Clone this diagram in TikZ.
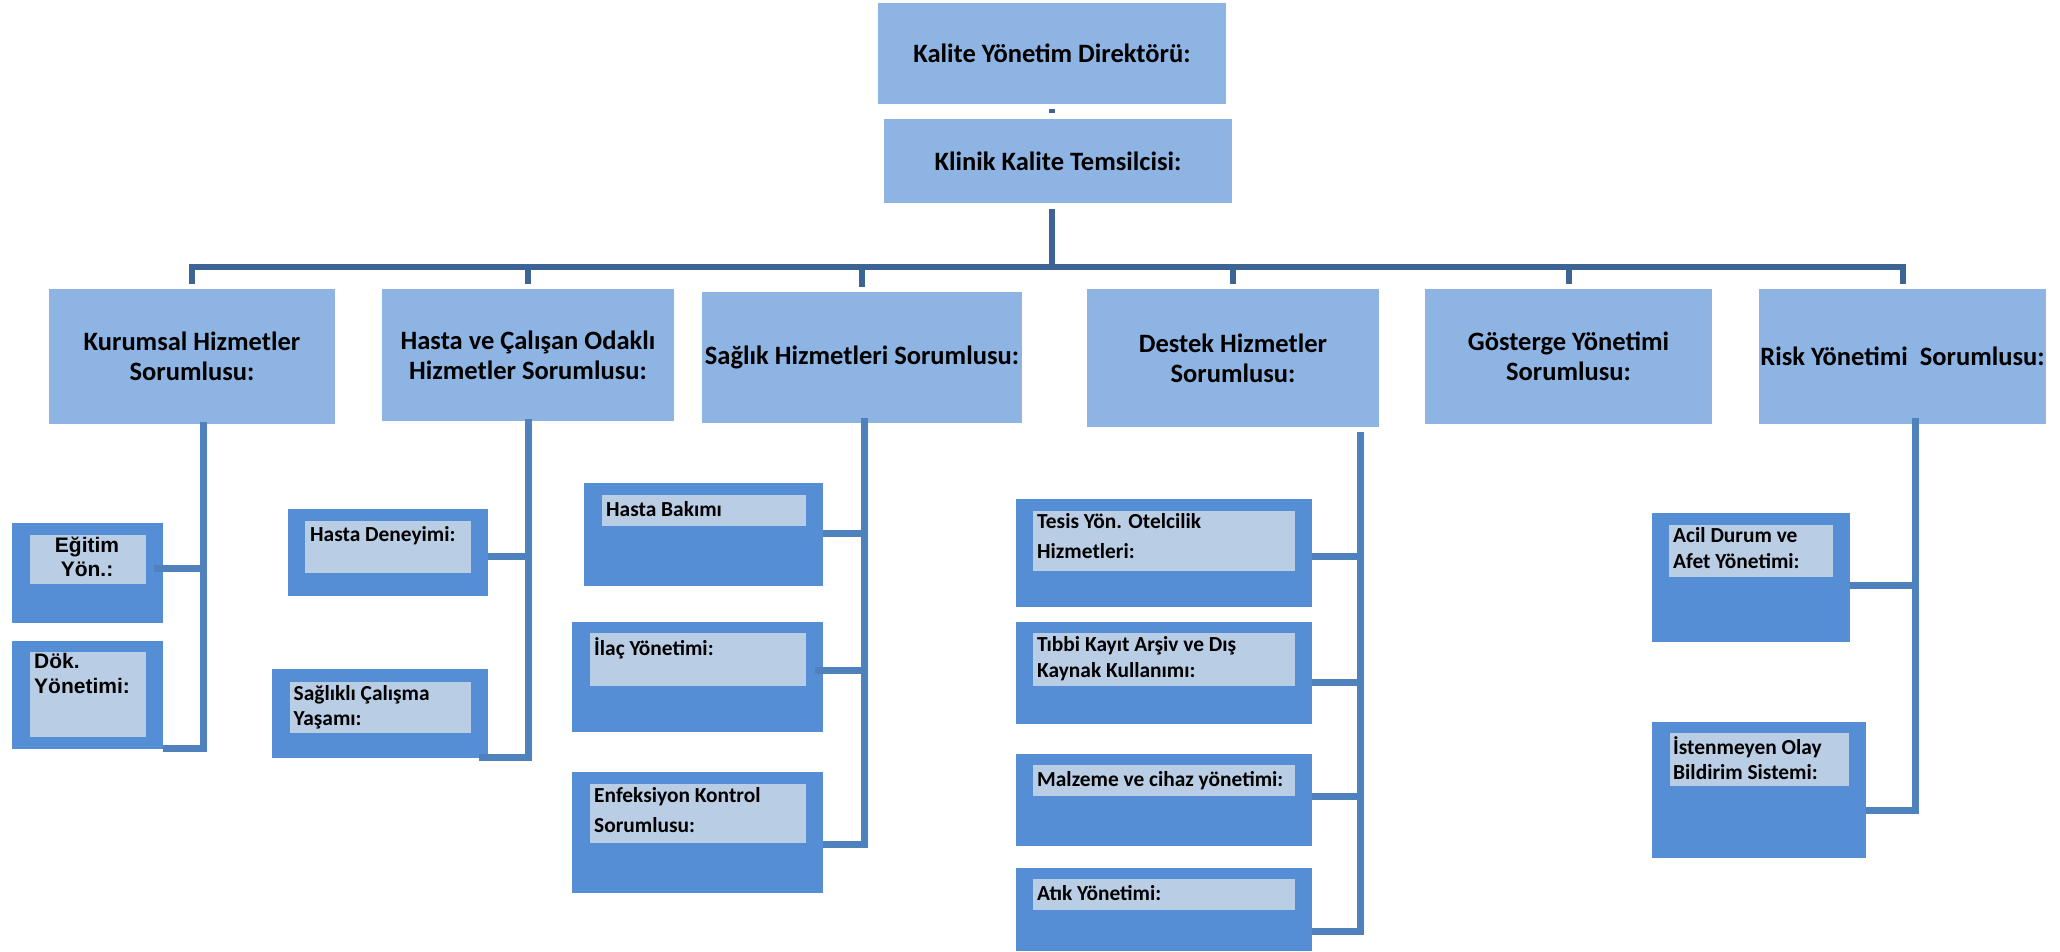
\documentclass[tikz,border=0pt]{standalone}
\usepackage{fontspec}
\setmainfont{Carlito}
\newfontfamily\arialyazi{Liberation Sans}
\usepackage{tikz}

\definecolor{ustmavi}{RGB}{142,180,227}
\definecolor{dismavi}{RGB}{85,142,213}
\definecolor{icmavi}{RGB}{185,205,229}
\definecolor{hatmavi}{RGB}{79,129,189}
\definecolor{koyumavi}{RGB}{62,100,150}

\begin{document}
\begin{tikzpicture}[x=1pt,y=-1pt]
    \useasboundingbox (0,0) rectangle (2060,951);

    % yonetim ve sorumlular
    \begin{scope}[every node/.style={fill=ustmavi, inner sep=0, align=center,
                  font=\fontsize{26.5}{30}\selectfont\bfseries}]
        \node[minimum width=348, minimum height=101] (direktor) at (1052,53.5) {Kalite Yönetim Direktörü:};
        \node[minimum width=348, minimum height=84] (klinik) at (1058,161) {Klinik Kalite Temsilcisi:};

        \node[minimum width=286, minimum height=135] (kurumsal) at (192,356.5) {Kurumsal Hizmetler\\Sorumlusu:};
        \node[minimum width=292, minimum height=132] (hastaCalisan) at (528,355) {Hasta ve Çalışan Odaklı\\Hizmetler Sorumlusu:};
        \node[minimum width=320, minimum height=131] (saglik) at (862,357.5) {Sağlık Hizmetleri Sorumlusu:};
        \node[minimum width=292, minimum height=138] (destek) at (1233,358) {Destek Hizmetler\\Sorumlusu:};
        \node[minimum width=287, minimum height=135] (gosterge) at (1568.5,356.5) {Gösterge Yönetimi\\Sorumlusu:};
        \node[minimum width=287, minimum height=135] (risk) at (1902.5,356.5) {Risk Yönetimi~~Sorumlusu:};
    \end{scope}

    % birimler (dis kutular)
    \begin{scope}[every node/.style={fill=dismavi, inner sep=0, anchor=north west}]
        \node[minimum width=151, minimum height=100] (egitim) at (12,523) {};
        \node[minimum width=151, minimum height=108] (dok) at (12,641) {};
        \node[minimum width=200, minimum height=87] (hastaDen) at (288,509) {};
        \node[minimum width=216, minimum height=89] (saglikli) at (272,669) {};
        \node[minimum width=239, minimum height=103] (hastaBak) at (584,483) {};
        \node[minimum width=251, minimum height=110] (ilac) at (572,622) {};
        \node[minimum width=251, minimum height=121] (enfeksiyon) at (572,772) {};
        \node[minimum width=296, minimum height=108] (tesis) at (1016,499) {};
        \node[minimum width=296, minimum height=102] (tibbi) at (1016,622) {};
        \node[minimum width=296, minimum height=92] (malzeme) at (1016,754) {};
        \node[minimum width=296, minimum height=83] (atik) at (1016,868) {};
        \node[minimum width=198, minimum height=129] (acil) at (1652,513) {};
        \node[minimum width=214, minimum height=136] (istenmeyen) at (1652,722) {};
    \end{scope}

    % birimler (ic kutular)
    \begin{scope}[every node/.style={fill=icmavi, inner sep=0, anchor=north west}]
        \node[minimum width=116, minimum height=49] (egitimIc) at (30,535) {};
        \node[minimum width=116, minimum height=85] (dokIc) at (30,652) {};
        \node[minimum width=166, minimum height=52] (hastaDenIc) at (305,521) {};
        \node[minimum width=181, minimum height=51] (saglikliIc) at (290,682) {};
        \node[minimum width=204, minimum height=31] (hastaBakIc) at (602,495) {};
        \node[minimum width=216, minimum height=53] (ilacIc) at (590,633) {};
        \node[minimum width=216, minimum height=59] (enfeksiyonIc) at (590,784) {};
        \node[minimum width=262, minimum height=60] (tesisIc) at (1033,511) {};
        \node[minimum width=262, minimum height=53] (tibbiIc) at (1033,633) {};
        \node[minimum width=262, minimum height=31] (malzemeIc) at (1033,765) {};
        \node[minimum width=262, minimum height=31] (atikIc) at (1033,879) {};
        \node[minimum width=164, minimum height=52] (acilIc) at (1669,525) {};
        \node[minimum width=179, minimum height=53] (istenmeyenIc) at (1670,733) {};
    \end{scope}

    % birim yazilari
    \begin{scope}[every node/.style={inner sep=0, anchor=north west, align=left,
                  font=\fontsize{21.4}{26}\selectfont\bfseries,
                  execute at begin node=\rule{0pt}{18pt}}]
        \node[anchor=north, align=center, font=\arialyazi\fontsize{21}{24}\selectfont\bfseries] (egitimYazi) at (87,536.5) {Eğitim\\Yön.:};
        \node[font=\arialyazi\fontsize{21}{25}\selectfont\bfseries] (dokYazi) at (34,653.5) {Dök.\\Yönetimi:};
        \node (hastaDenYazi) at (310,522.8) {Hasta Deneyimi:};
        \node (saglikliYazi) at (293.5,684.8) {Sağlıklı Çalışma\\[-1pt]Yaşamı:};
        \node (hastaBakYazi) at (606,497.8) {Hasta Bakımı};
        \node (ilacYazi) at (594,636.8) {İlaç Yönetimi:};
        \node (enfeksiyonYazi) at (594,786.8) {Enfeksiyon Kontrol\\[4pt]Sorumlusu:};
        \node (tesisYazi) at (1037,512.8) {Tesis Yön. Otelcilik\\[4pt]Hizmetleri:};
        \node (tibbiYazi) at (1037,635.8) {Tıbbi Kayıt Arşiv ve Dış\\Kaynak Kullanımı:};
        \node (malzemeYazi) at (1037,767.8) {Malzeme ve cihaz yönetimi:};
        \node (atikYazi) at (1037,881.8) {Atık Yönetimi:};
        \node (acilYazi) at (1673,526.8) {Acil Durum ve\\Afet Yönetimi:};
        \node (istenmeyenYazi) at (1673,736.8) {İstenmeyen Olay\\[-1pt]Bildirim Sistemi:};
    \end{scope}

    % ust baglantilar
    \coordinate (bus) at (1051.5,266.5);
    \begin{scope}[every edge/.style={draw=koyumavi, line width=6}]
        \path ([yshift=-5]direktor.south -| bus) edge ([yshift=6]klinik.north -| bus);
        \path ([yshift=-6]klinik.south -| bus) edge ([yshift=-3]bus);
        \path (kurumsal.north |- bus) edge (risk.north |- bus);
        \foreach \n in {kurumsal,hastaCalisan,saglik,destek,gosterge,risk}
            \path ([yshift=3]\n.north |- bus) edge ([yshift=5]\n.north);
    \end{scope}

    % alt baglantilar
    \coordinate (kAlt) at (203.5,752);
    \coordinate (hAlt) at (528.5,760.5);
    \coordinate (sAlt) at (864.5,848);
    \coordinate (dAlt) at (1360.5,934.5);
    \coordinate (rAlt) at (1915.5,813.5);
    \begin{scope}[every edge/.style={draw=hatmavi, line width=7}]
        \path ([yshift=2]kurumsal.south -| kAlt) edge (kAlt);
        \path ([xshift=-9,yshift=4.5]egitim.east) edge ([yshift=4.5]egitim.east -| kAlt);
        \path ([yshift=0.5]dok.south east) edge ([yshift=0.5]dok.south east -| kAlt);

        \path ([yshift=2]hastaCalisan.south -| hAlt) edge (hAlt);
        \path ([yshift=-4]hastaDen.east) edge ([yshift=-4]hastaDen.east -| hAlt);
        \path ([xshift=-9,yshift=1]saglikli.south east) edge ([yshift=1]saglikli.south east -| hAlt);

        \path ([yshift=5]saglik.south -| sAlt) edge (sAlt);
        \path ([yshift=1]hastaBak.east) edge ([yshift=1]hastaBak.east -| sAlt);
        \path ([xshift=-8,yshift=6.5]ilac.east) edge ([yshift=6.5]ilac.east -| sAlt);
        \path ([yshift=-12]enfeksiyon.east) edge ([yshift=-12]enfeksiyon.east -| sAlt);

        \path ([yshift=-5]destek.south -| dAlt) edge (dAlt);
        \path ([yshift=-3.5]tesis.east) edge ([yshift=-3.5]tesis.east -| dAlt);
        \path ([yshift=-9.5]tibbi.east) edge ([yshift=-9.5]tibbi.east -| dAlt);
        \path ([yshift=3.5]malzeme.east) edge ([yshift=3.5]malzeme.east -| dAlt);
        \path ([yshift=-21.5]atik.east) edge ([yshift=-21.5]atik.east -| dAlt);

        \path ([yshift=6]risk.south -| rAlt) edge (rAlt);
        \path ([yshift=-7.5]acil.east) edge ([yshift=-7.5]acil.east -| rAlt);
        \path ([yshift=-20]istenmeyen.east) edge ([yshift=-20]istenmeyen.east -| rAlt);
    \end{scope}
\end{tikzpicture}
\end{document}
